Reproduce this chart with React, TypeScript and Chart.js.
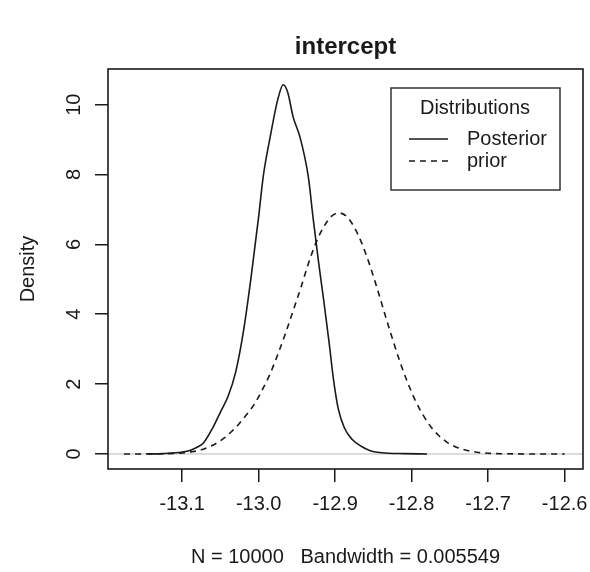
import React, { useEffect, useRef } from "react";
import { Chart, registerables } from "chart.js";

Chart.register(...registerables);

const POSTERIOR_X = [
  -13.145, -13.125, -13.105, -13.09, -13.08, -13.072, -13.06, -13.05, -13.04, -13.03,
  -13.02, -13.01, -13.0, -12.994, -12.985, -12.975, -12.968, -12.962, -12.955, -12.946,
  -12.935, -12.929, -12.922, -12.915, -12.908, -12.902, -12.896, -12.888, -12.878, -12.866,
  -12.855, -12.845, -12.83, -12.81, -12.78,
];
const POSTERIOR_Y = [
  0, 0.01, 0.04, 0.1, 0.2, 0.32, 0.75, 1.2, 1.65, 2.35,
  3.5, 5.05, 6.8, 7.95, 9.07, 10.15, 10.57, 10.35, 9.65, 9.07,
  7.92, 6.78, 5.54, 4.4, 3.2, 2.1, 1.3, 0.75, 0.42, 0.22,
  0.1, 0.05, 0.02, 0.01, 0,
];

const PRIOR_X = [
  -13.176, -13.145, -13.12, -13.1, -13.085, -13.075, -13.065, -13.055, -13.045, -13.035,
  -13.025, -13.015, -13.005, -12.995, -12.985, -12.975, -12.965, -12.955, -12.945, -12.935,
  -12.925, -12.915, -12.905, -12.895, -12.885, -12.875, -12.865, -12.855, -12.845, -12.835,
  -12.825, -12.815, -12.805, -12.795, -12.785, -12.775, -12.765, -12.755, -12.745, -12.735,
  -12.715, -12.695, -12.675, -12.645, -12.6,
];
const PRIOR_Y = [
  0, 0.002, 0.01, 0.03, 0.07, 0.12, 0.2, 0.31, 0.46, 0.65,
  0.88, 1.15, 1.45, 1.85, 2.3, 2.85, 3.45, 4.1, 4.75, 5.45,
  6.05, 6.5, 6.8, 6.9, 6.8, 6.49, 6.02, 5.42, 4.73, 4.0,
  3.29, 2.62, 2.03, 1.52, 1.11, 0.78, 0.535, 0.356, 0.23, 0.143,
  0.051, 0.016, 0.005, 0.0005, 0,
];

const X_TICKS = [-13.1, -13.0, -12.9, -12.8, -12.7, -12.6];
const X_TICK_LABELS = ["-13.1", "-13.0", "-12.9", "-12.8", "-12.7", "-12.6"];
const Y_TICKS = [0, 2, 4, 6, 8, 10];
const Y_TICK_LABELS = ["0", "2", "4", "6", "8", "10"];
const X_RANGE = [-13.197, -12.576];
const Y_RANGE = [-0.43, 11.02];

const TITLE = "intercept";
const X_LABEL = "N = 10000   Bandwidth = 0.005549";
const Y_LABEL = "Density";
const LEGEND_TITLE = "Distributions";
const SERIES_NAMES = ["Posterior", "prior"];

const FONT = "'Liberation Sans', Arial, sans-serif";
const INK = "#1a1a1a";
const DASH = [6, 5];

const decorPlugin = {
  id: "decor",
  afterDraw(chart: any) {
    const { ctx, chartArea } = chart;
    const { left, right, top, bottom } = chartArea;
    const yScale = chart.scales.y;
    ctx.save();
    ctx.strokeStyle = INK;
    ctx.lineWidth = 1.6;
    ctx.setLineDash([]);
    ctx.strokeRect(left, top, right - left, bottom - top);

    ctx.fillStyle = INK;
    ctx.textAlign = "center";
    ctx.textBaseline = "middle";
    ctx.font = `bold 24px ${FONT}`;
    ctx.fillText(TITLE, (left + right) / 2, 47);

    ctx.font = `20px ${FONT}`;
    ctx.fillText(X_LABEL, (left + right) / 2, 557);

    ctx.save();
    ctx.translate(28, (top + bottom) / 2);
    ctx.rotate(-Math.PI / 2);
    ctx.fillText(Y_LABEL, 0, 0);
    ctx.restore();

    yScale.ticks.forEach((t: any, i: number) => {
      const py = yScale.getPixelForValue(t.value);
      ctx.save();
      ctx.translate(74, py);
      ctx.rotate(-Math.PI / 2);
      ctx.fillText(Y_TICK_LABELS[i], 0, 0);
      ctx.restore();
    });

    const lx = right - 192;
    const ly = top + 19;
    const lw = 169;
    const lh = 102;
    ctx.strokeStyle = "#333";
    ctx.lineWidth = 1.5;
    ctx.strokeRect(lx, ly, lw, lh);
    ctx.fillText(LEGEND_TITLE, lx + 84, ly + 20);
    const rows = [ly + 51, ly + 73];
    ctx.textAlign = "left";
    SERIES_NAMES.forEach((name, i) => {
      ctx.beginPath();
      ctx.strokeStyle = INK;
      ctx.lineWidth = 1.5;
      ctx.setLineDash(i === 0 ? [] : DASH);
      ctx.moveTo(lx + 18, rows[i]);
      ctx.lineTo(lx + 57, rows[i]);
      ctx.stroke();
      ctx.setLineDash([]);
      ctx.fillText(name, lx + 76, rows[i]);
    });
    ctx.restore();
  },
};

export default function App() {
  const ref = useRef<HTMLCanvasElement | null>(null);
  useEffect(() => {
    if (!ref.current) return;
    const chart = new Chart(ref.current, {
      type: "line",
      data: {
        datasets: [
          {
            label: SERIES_NAMES[0],
            data: POSTERIOR_X.map((x, i) => ({ x, y: POSTERIOR_Y[i] })),
            borderColor: INK,
            borderWidth: 1.6,
            pointRadius: 0,
            cubicInterpolationMode: "monotone",
          },
          {
            label: SERIES_NAMES[1],
            data: PRIOR_X.map((x, i) => ({ x, y: PRIOR_Y[i] })),
            borderColor: INK,
            borderWidth: 1.6,
            borderDash: DASH,
            pointRadius: 0,
            cubicInterpolationMode: "monotone",
          },
          {
            label: "zero",
            data: [
              { x: X_RANGE[0], y: 0 },
              { x: X_RANGE[1], y: 0 },
            ],
            borderColor: "#d0d0d0",
            borderWidth: 1.5,
            pointRadius: 0,
          },
        ],
      },
      options: {
        responsive: false,
        animation: false,
        events: [],
        layout: { padding: { top: 69, right: 7, left: 0, bottom: 0 } },
        plugins: {
          legend: { display: false },
          tooltip: { enabled: false },
          title: { display: false },
        },
        scales: {
          x: {
            type: "linear",
            min: X_RANGE[0],
            max: X_RANGE[1],
            afterBuildTicks: (s: any) => {
              s.ticks = X_TICKS.map((v) => ({ value: v }));
            },
            afterFit: (s: any) => {
              s.height = 103;
              s.paddingLeft = 0;
              s.paddingRight = 0;
            },
            border: { display: false },
            grid: {
              drawOnChartArea: false,
              drawTicks: true,
              tickLength: 13,
              color: INK,
              lineWidth: 1.5,
            },
            ticks: {
              autoSkip: false,
              maxRotation: 0,
              minRotation: 0,
              padding: 10,
              color: INK,
              font: { family: FONT, size: 20 },
              callback: (_v: any, i: number) => X_TICK_LABELS[i],
            },
          },
          y: {
            type: "linear",
            min: Y_RANGE[0],
            max: Y_RANGE[1],
            afterBuildTicks: (s: any) => {
              s.ticks = Y_TICKS.map((v) => ({ value: v }));
            },
            afterFit: (s: any) => {
              s.width = 108;
              s.paddingTop = 0;
              s.paddingBottom = 0;
            },
            border: { display: false },
            grid: {
              drawOnChartArea: false,
              drawTicks: true,
              tickLength: 13,
              color: INK,
              lineWidth: 1.5,
            },
            ticks: {
              color: "rgba(0,0,0,0)",
              font: { family: FONT, size: 20 },
              callback: (_v: any, i: number) => Y_TICK_LABELS[i],
            },
          },
        },
      },
      plugins: [decorPlugin],
    });
    return () => chart.destroy();
  }, []);
  return (
    <div style={{ position: "absolute", left: 0, top: 0, width: 590, height: 572, background: "#fff" }}>
      <canvas ref={ref} width={590} height={572} style={{ display: "block" }} />
    </div>
  );
}
